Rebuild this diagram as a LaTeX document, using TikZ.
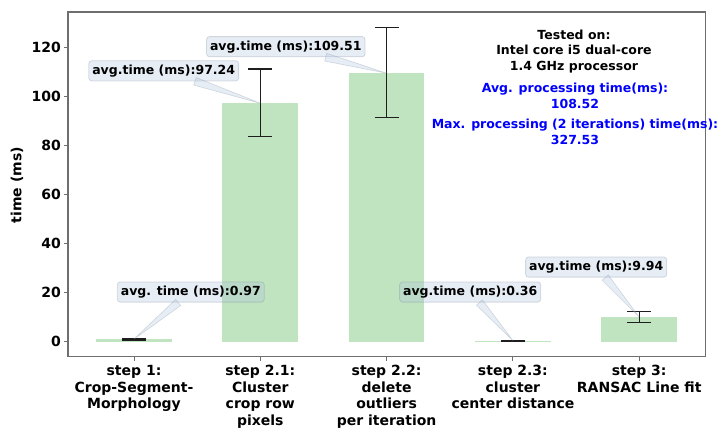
\documentclass[tikz,border=0pt]{standalone}
\usepackage{fontspec}
\setmainfont{DejaVu Sans}
\usetikzlibrary{calc}
\definecolor{barg}{RGB}{192,227,192}
\definecolor{boxf}{RGB}{176,196,222}
\definecolor{spine}{RGB}{110,110,110}
\definecolor{errc}{RGB}{30,30,30}
\begin{document}
\begin{tikzpicture}[x=1pt,y=-1pt,
  errbar/.style={draw=errc, line width=1.3pt},
  note/.style={rectangle, rounded corners=3pt, fill=boxf, fill opacity=0.3, text opacity=1,
    draw=boxf!70!black, draw opacity=0.3, line width=0.8pt,
    font=\fontsize{12.5}{15}\selectfont\bfseries, inner xsep=3.5pt, inner ysep=4pt},
  wedgeshape/.style={fill=boxf, fill opacity=0.3, draw=boxf!70!black, draw opacity=0.3, line width=0.6pt},
  ticklbl/.style={font=\fontsize{14}{16.7}\selectfont\bfseries, align=center, inner sep=0pt},
  infotext/.style={font=\fontsize{12.5}{15.8}\selectfont\bfseries, align=center, inner sep=0pt},
  tickline/.style={draw=spine, line width=1pt}
]
\useasboundingbox (0,0) rectangle (717,429);

% data scope
\begin{scope}[shift={(134,341.5)}, x=126.3pt, y=2.45pt]
  \foreach \i/\v in {0/0.97, 1/97.24, 2/109.51, 3/0.36, 4/9.94}
    \fill[barg] ({\i-0.3},0) rectangle ({\i+0.3},\v);
  \foreach \i/\lo/\hi in {0/0.6/1.35, 1/83.7/111.2, 2/91.3/128.2, 3/0.15/0.55, 4/7.7/12.3}{
    \draw[errbar] (\i,\lo) -- (\i,\hi);
    \draw[errbar] ({\i-0.095},\lo) -- ({\i+0.095},\lo);
    \draw[errbar] ({\i-0.095},\hi) -- ({\i+0.095},\hi);
  }
  \coordinate (p0) at (0,0.97);
  \coordinate (p1) at (1,97.24);
  \coordinate (p2) at (2,109.51);
  \coordinate (p3) at (3,0.36);
  \coordinate (p4) at (4,9.94);
\end{scope}

% frame
\draw[spine, line width=1.2pt] (68,12) rectangle (705.5,356.7);

% y ticks
\foreach \v in {0,20,...,120}{
  \pgfmathsetmacro{\yy}{341.5-2.45*\v}
  \draw[tickline] (64,\yy) -- (68,\yy);
  \node[ticklbl, anchor=east] at (61,\yy) {\v};
}
\node[ticklbl, rotate=90] (ylab) at (17,185) {time (ms)};

% x ticks
\foreach \i/\t in {0/{step 1:\\Crop-Segment-\\Morphology},
                   1/{step 2.1:\\Cluster\\crop row\\pixels},
                   2/{step 2.2:\\delete\\outliers\\per iteration},
                   3/{step 2.3:\\cluster\\center distance},
                   4/{step 3:\\RANSAC Line fit}}{
  \pgfmathsetmacro{\xx}{134+126.3*\i}
  \draw[tickline] (\xx,356.7) -- (\xx,361);
  \node[ticklbl, anchor=north] at (\xx,365) {\t};
}

% info text
\node[infotext] (info) at (574,51.5) {Tested on:\\Intel core i5 dual-core\\1.4 GHz processor};
\node[infotext, text=blue] (avg) at (575,96.2) {Avg. processing time(ms):\\108.52};
\node[infotext, text=blue] (max) at (575,132.2) {Max. processing (2 iterations) time(ms):\\327.53};

% annotations
\node[note] (n0) at (190.8,292) {avg. time (ms):0.97};
\node[note] (n1) at (163.7,70.8) {avg.time (ms):97.24};
\node[note] (n2) at (285.8,46.7) {avg.time (ms):109.51};
\node[note] (n3) at (470.2,292) {avg.time (ms):0.36};
\node[note] (n4) at (596.2,267) {avg.time (ms):9.94};

\foreach \k in {0,...,4}{
  \path (n\k) -- (p\k) coordinate[pos=0] (s\k);
  \fill[wedgeshape] ($(s\k)!4pt!90:(p\k)$) -- (p\k) -- ($(s\k)!4pt!-90:(p\k)$) -- cycle;
}
\end{tikzpicture}
\end{document}
